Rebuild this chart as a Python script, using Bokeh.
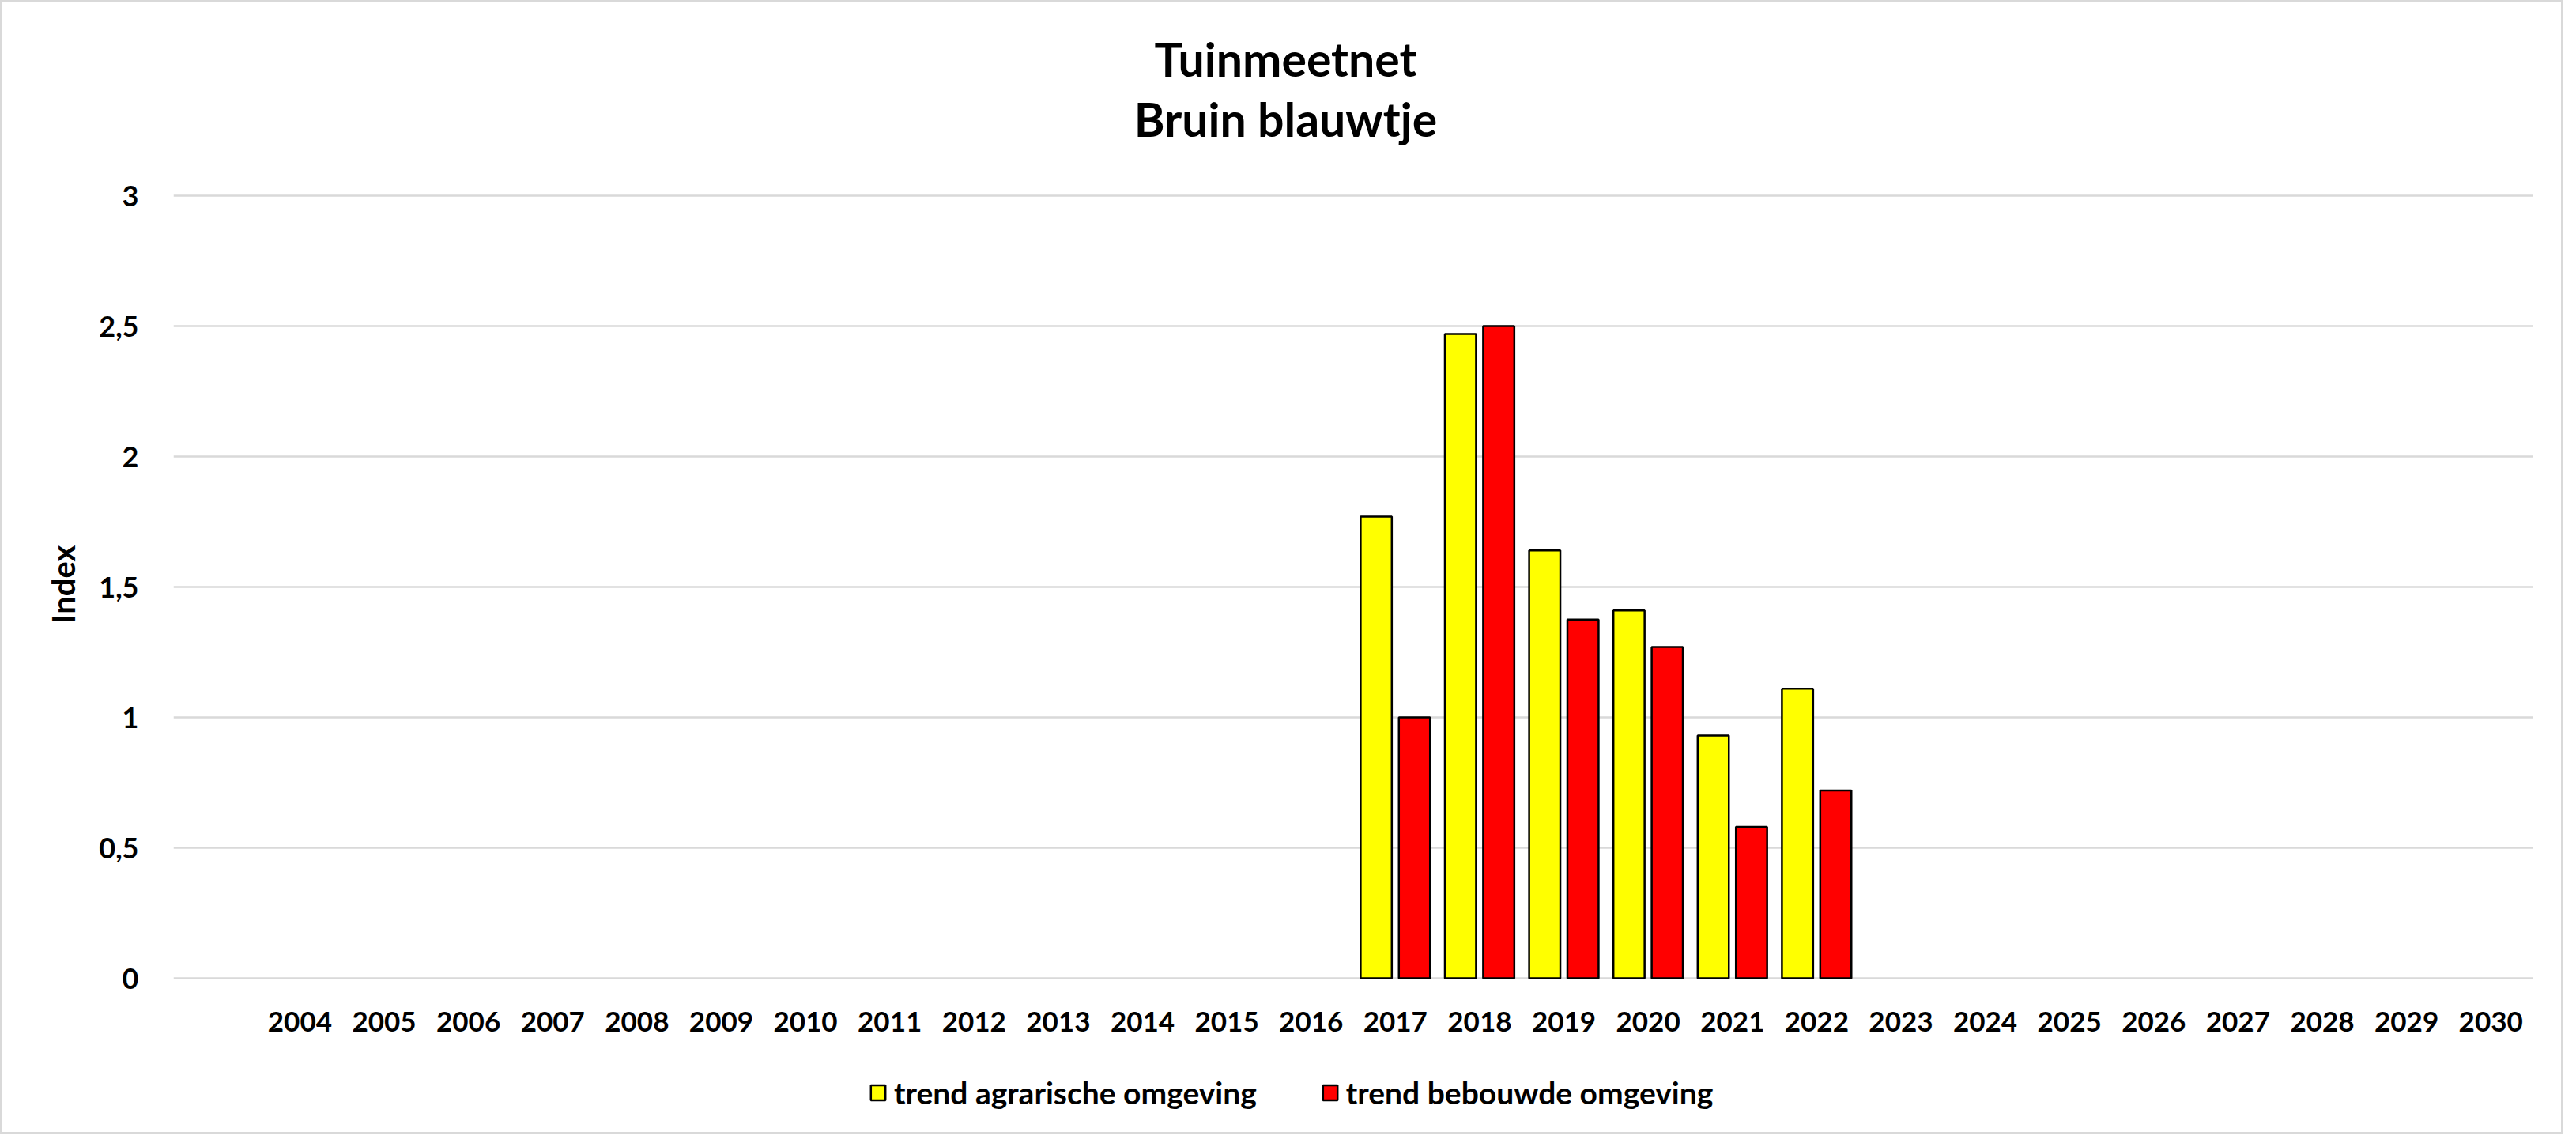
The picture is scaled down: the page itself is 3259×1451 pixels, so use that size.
from bokeh.plotting import figure
from bokeh.models import (ColumnDataSource, FactorRange, Legend, LegendItem, Label,
                          FixedTicker, CustomJSTickFormatter, Range1d)
from bokeh.transform import dodge
from bokeh.embed import file_html
from bokeh.resources import INLINE

# ---- data ----
categories = [" "] + [str(y) for y in range(2004, 2031)]
years = ["2017", "2018", "2019", "2020", "2021", "2022"]
agrarisch = [1.77, 2.47, 1.64, 1.41, 0.93, 1.11]
bebouwd = [1.00, 2.50, 1.375, 1.27, 0.58, 0.72]
y_ticks = [0, 0.5, 1, 1.5, 2, 2.5, 3]
series_names = ["trend agrarische omgeving", "trend bebouwde omgeving"]
title_lines = ["Tuinmeetnet", "Bruin blauwtje"]

FONT = "Lato"
GRID = "#D9D9D9"

# ---- layout (pixels) ----
W, H = 3243, 1435
BORDER_TOP = 36          # frame top
PX_PER_UNIT = 330.0      # vertical scale
TOP_PAD = 208.0          # pixels of frame above y = 3
BOTTOM_PAD = H - BORDER_TOP - TOP_PAD - 3 * PX_PER_UNIT  # pixels of frame below y = 0
y_end = 3 + TOP_PAD / PX_PER_UNIT
y_start = -BOTTOM_PAD / PX_PER_UNIT

src = ColumnDataSource(dict(year=years, agr=agrarisch, beb=bebouwd))

p = figure(width=W, height=H, x_range=FactorRange(*categories, range_padding=0),
           y_range=Range1d(y_start, y_end), output_backend="svg", toolbar_location=None,
           min_border_left=216, min_border_right=42, min_border_top=BORDER_TOP,
           min_border_bottom=0)
p.styles = {"border": "3px solid #D9D9D9"}

r1 = p.vbar(x=dodge("year", -0.227, range=p.x_range), top="agr", width=0.37, source=src,
            fill_color="#FFFF00", line_color="black", line_width=2.5)
r2 = p.vbar(x=dodge("year", 0.227, range=p.x_range), top="beb", width=0.37, source=src,
            fill_color="#FF0000", line_color="black", line_width=2.5)

# titles (inside the frame area, screen units from the frame's bottom-left)
for txt, ty in zip(title_lines, [1364, 1288]):
    p.add_layout(Label(x=1407, y=ty, x_units="screen", y_units="screen", text=txt,
                       text_align="center", text_baseline="alphabetic",
                       text_font=FONT, text_font_size="59px", text_font_style="bold",
                       text_color="black"))

# axes
p.outline_line_color = None
p.xgrid.grid_line_color = None
p.ygrid.grid_line_color = GRID
p.ygrid.grid_line_width = 2.5

p.xaxis.fixed_location = 0
p.xaxis.axis_line_color = None
p.xaxis.major_tick_line_color = None
p.xaxis.minor_tick_line_color = None
p.xaxis.major_label_text_font = FONT
p.xaxis.major_label_text_font_size = "35px"
p.xaxis.major_label_text_font_style = "bold"
p.xaxis.major_label_text_color = "black"
p.xaxis.major_label_standoff = 26

p.yaxis.ticker = FixedTicker(ticks=y_ticks)
p.yaxis.formatter = CustomJSTickFormatter(code="return tick.toString().replace('.', ',');")
p.yaxis.axis_line_color = None
p.yaxis.major_tick_line_color = None
p.yaxis.minor_tick_line_color = None
p.yaxis.major_label_text_font = FONT
p.yaxis.major_label_text_font_size = "36px"
p.yaxis.major_label_text_font_style = "bold"
p.yaxis.major_label_text_color = "black"
p.yaxis.major_label_standoff = 38
p.yaxis.axis_label = "Index"
p.yaxis.axis_label_text_font = FONT
p.yaxis.axis_label_text_font_size = "40px"
p.yaxis.axis_label_text_font_style = "bold"
p.yaxis.axis_label_text_color = "black"
p.yaxis.axis_label_standoff = 18

legend = Legend(items=[LegendItem(label=series_names[0], renderers=[r1]),
                       LegendItem(label=series_names[1], renderers=[r2])],
                orientation="horizontal", location=(880, 33),
                glyph_width=23, glyph_height=24, label_standoff=9, spacing=81,
                padding=0, margin=0, border_line_color=None, background_fill_alpha=0,
                label_text_font=FONT, label_text_font_size="39px",
                label_text_font_style="bold", label_text_color="black")
p.add_layout(legend, "center")

open("out.html", "w").write(file_html(p, INLINE))
